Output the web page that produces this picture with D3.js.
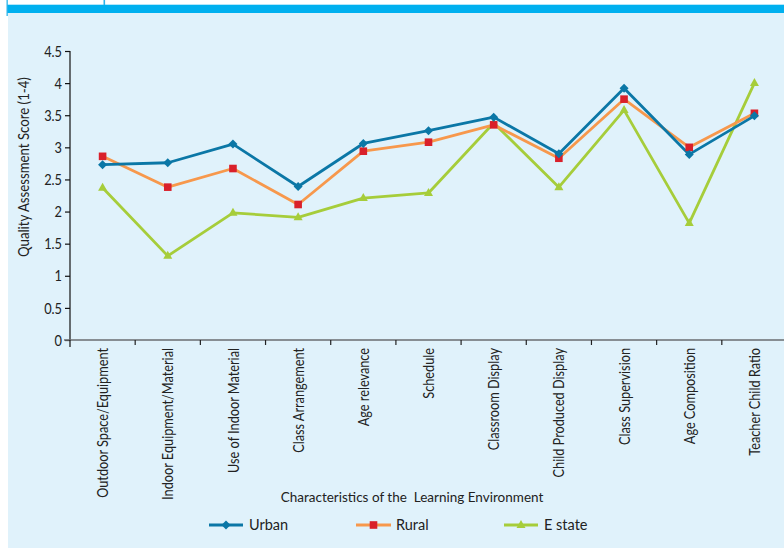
<!DOCTYPE html>
<html><head><meta charset="utf-8">
<script src="https://cdn.jsdelivr.net/npm/d3@7"></script>
<style>
html,body{margin:0;padding:0;background:#fff;}
svg{display:block;}
.cond{font-family:Lato,"Open Sans",sans-serif;}
.hum{font-family:Lato,"Open Sans",sans-serif;}
</style></head>
<body>
<svg id="c" width="784" height="548"></svg>
<script>
const categories = ["Outdoor Space/Equipment","Indoor Equipment/Material","Use of Indoor Material","Class Arrangement","Age relevance","Schedule","Classroom Display","Child Produced Display","Class Supervision","Age Composition","Teacher Child Ratio"];
const urban  = [2.73,2.76,3.05,2.39,3.06,3.26,3.47,2.90,3.92,2.89,3.49];
const rural  = [2.86,2.38,2.67,2.11,2.94,3.08,3.35,2.83,3.75,3.00,3.53];
const estate = [2.37,1.31,1.98,1.91,2.21,2.29,3.38,2.38,3.58,1.82,4.00];
const yTicks = [0,0.5,1,1.5,2,2.5,3,3.5,4,4.5];
const seriesNames = ["Urban","Rural","E state"];

const svg = d3.select("#c");
// header & background
svg.append("rect").attr("x",0).attr("y",0).attr("width",784).attr("height",548).attr("fill","#ffffff");
svg.append("rect").attr("x",8).attr("y",13).attr("width",776).attr("height",535).attr("fill","#e0f2fb");
svg.append("rect").attr("x",7).attr("y",4.7).attr("width",777).attr("height",8.3).attr("fill","#00b0ef");
svg.append("rect").attr("x",6.5).attr("y",0).attr("width",1.3).attr("height",16).attr("fill","#2ab3ea");
svg.append("rect").attr("x",103.5).attr("y",0).attr("width",1.6).attr("height",5).attr("fill","#2ab3ea");

const x = d3.scaleBand().domain(categories).range([70,787]);
const y = d3.scaleLinear().domain([0,4.5]).range([340,51]);

// y axis
const ya = svg.append("g").attr("transform","translate(70,0)")
  .call(d3.axisLeft(y).tickValues(yTicks).tickSize(5).tickPadding(3).tickFormat(d=>String(d)));
ya.select(".domain").attr("stroke","#111").attr("stroke-width",1.2).attr("d","M0,340V51");
ya.selectAll(".tick line").attr("stroke","#111").attr("stroke-width",1.2);
ya.selectAll(".tick text").attr("class","cond").attr("font-size",16).attr("fill","#222")
  .attr("x",0).attr("transform","translate(-8,0) scale(0.8,1)");

// x axis
const xa = svg.append("g").attr("transform","translate(0,340)")
  .call(d3.axisBottom(x).tickSize(0).tickFormat(d=>d));
xa.select(".domain").attr("stroke","#6a6d70").attr("stroke-width",1.6).attr("d","M64,0H784");
const xt = xa.selectAll(".tick text").attr("class","cond").attr("font-size",15.5).attr("fill","#222")
  .attr("text-anchor","end").attr("dy","0.36em").attr("x",0).attr("y",0);
const natural = xt.filter((d,i)=>i===0).node().getComputedTextLength();
const sx = 150/natural;
xt.attr("transform",`translate(0,8) rotate(-90) scale(${sx},1)`);
// boundary ticks
const bounds = categories.map(c=>x(c));
svg.append("g").selectAll("line").data(bounds).join("line")
  .attr("x1",d=>d).attr("x2",d=>d).attr("y1",340).attr("y2",d=>d===70?347:345)
  .attr("stroke",(d)=>d===70?"#111":"#222").attr("stroke-width",1.2);

const cx = c => x(c)+x.bandwidth()/2;
const line = d3.line().x((d,i)=>cx(categories[i])).y(d=>y(d));

const cfg = [
  {data:urban,  color:"#0b77a6", mcolor:"#0b77a6", marker:"diamond"},
  {data:rural,  color:"#f7984c", mcolor:"#d9202a", marker:"square"},
  {data:estate, color:"#a6cd3a", mcolor:"#a6cd3a", marker:"triangle"}
];
function marker(g, type, color, px, py){
  if(type==="diamond"){
    g.append("path").attr("d",`M${px},${py-4.5}L${px+4.5},${py}L${px},${py+4.5}L${px-4.5},${py}Z`).attr("fill",color);
  } else if(type==="square"){
    g.append("rect").attr("x",px-3.8).attr("y",py-3.8).attr("width",7.6).attr("height",7.6).attr("fill",color);
  } else {
    g.append("path").attr("d",`M${px},${py-5}L${px+4.5},${py+3}L${px-4.5},${py+3}Z`).attr("fill",color);
  }
}
[2,1,0].forEach(k=>{
  const s = cfg[k];
  svg.append("path").datum(s.data).attr("d",line).attr("fill","none")
    .attr("stroke",s.color).attr("stroke-width",2.8).attr("stroke-linejoin","round");
});
[2,1,0].forEach(k=>{
  const s = cfg[k];
  const g = svg.append("g");
  s.data.forEach((v,i)=>marker(g,s.marker,s.mcolor,cx(categories[i]),y(v)));
});

// axis titles
const yt = svg.append("text").attr("class","hum").attr("font-size",14.5).attr("fill","#222")
  .attr("text-anchor","middle").text("Quality Assessment Score (1-4)");
const ytl = yt.node().getComputedTextLength();
yt.attr("transform",`translate(28.5,167) rotate(-90) scale(${180/ytl},1)`);
svg.append("text").attr("class","hum").attr("font-size",13.5).attr("fill","#222")
  .attr("text-anchor","middle").attr("x",412).attr("y",502).style("white-space","pre")
  .text("Characteristics of the  Learning Environment");

// legend
const lg = [{x1:209,x2:243,tx:249},{x1:356,x2:391,tx:396},{x1:504,x2:538,tx:544}];
lg.forEach((p,k)=>{
  const s = cfg[k];
  svg.append("line").attr("x1",p.x1).attr("x2",p.x2).attr("y1",525).attr("y2",525)
    .attr("stroke",s.color).attr("stroke-width",2.8);
  const g = svg.append("g");
  marker(g,s.marker,s.mcolor,(p.x1+p.x2)/2,525);
  svg.append("text").attr("class","hum").attr("font-size",14.5).attr("fill","#222")
    .attr("x",p.tx).attr("y",530).text(seriesNames[k]);
});
</script>
</body></html>
